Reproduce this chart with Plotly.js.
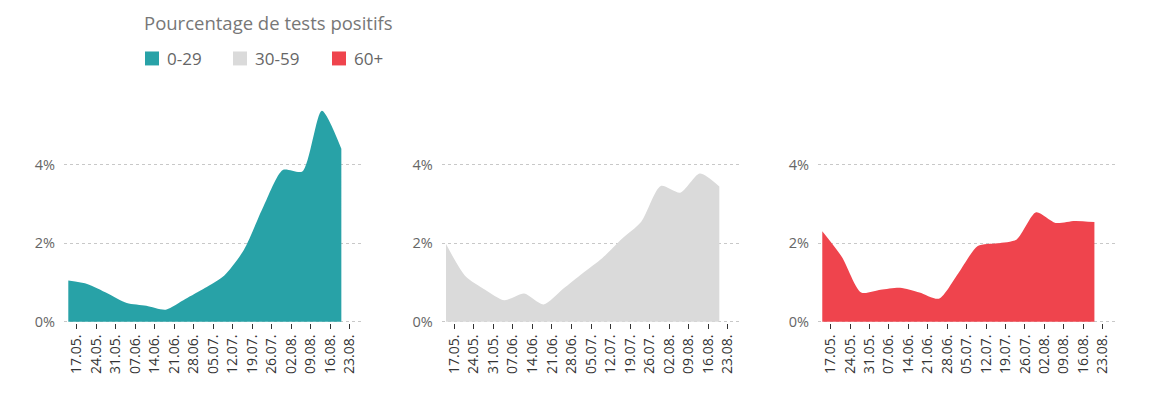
<!DOCTYPE html>
<html>
<head>
<meta charset="utf-8">
<script src="https://cdn.plot.ly/plotly-3.0.1.min.js"></script>
<style>html,body{margin:0;padding:0;background:#fff;}#chart{width:1172px;height:408px;}</style>
</head>
<body>
<div id="chart"></div>
<script>
// Weekly dates (data points)
const dates = ["2020-05-14","2020-05-21","2020-05-28","2020-06-04","2020-06-11","2020-06-18","2020-06-25","2020-07-02","2020-07-09","2020-07-16","2020-07-23","2020-07-30","2020-08-06","2020-08-13","2020-08-20"];
// Percentage of positive tests by age group
const age0_29  = [1.05,0.96,0.73,0.48,0.41,0.31,0.58,0.86,1.18,1.83,2.93,3.87,3.83,5.38,4.41];
const age30_59 = [1.98,1.16,0.82,0.55,0.72,0.44,0.84,1.24,1.62,2.11,2.55,3.46,3.29,3.78,3.45];
const age60p   = [2.31,1.66,0.75,0.82,0.87,0.75,0.59,1.24,1.93,2.00,2.10,2.79,2.52,2.57,2.54];
const groupNames = ["0-29","30-59","60+"];
const groupColors = ["#28A2A7","#DADADA","#EF444D"];
const seriesList = [age0_29, age30_59, age60p];
const yTickVals = [0,2,4];
const yTickText = ["0%","2%","4%"];
const titleText = "Pourcentage de tests positifs";

const domains = [[64/1172, 362/1172],[441.7/1172, 740/1172],[818/1172, 1115/1172]];
const xRange = ["2020-05-12 11:00","2020-08-27 10:00"];
const yRange = [-0.03, 5.6];
const FONT = "Open Sans, Noto Sans, sans-serif";

// plot-area geometry (pixels)
const TOP = 101.7, BOT = 323.5, H = BOT - TOP;
const py = (pix) => (BOT - pix) / H;

const traces = seriesList.map((vals,i)=>({
  type:"scatter", mode:"lines", x:dates, y:vals,
  xaxis: i===0?"x":"x"+(i+1), yaxis: i===0?"y":"y"+(i+1),
  fill:"tozeroy", fillcolor:groupColors[i],
  line:{color:groupColors[i], width:0, shape:"spline", smoothing:0.7},
  showlegend:false, hoverinfo:"skip"
}));

const layout = {
  width:1172, height:408,
  margin:{l:0,r:0,t:TOP,b:408-BOT,pad:0},
  paper_bgcolor:"#fff", plot_bgcolor:"rgba(0,0,0,0)",
  font:{family:FONT, color:"#666", size:13},
  showlegend:false,
  shapes:[], annotations:[]
};
domains.forEach((d,i)=>{
  const sx = i===0?"":String(i+1);
  layout["xaxis"+sx] = {
    domain:d, type:"date", range:xRange, anchor:"y"+sx,
    tick0:"2020-05-17", dtick:7*24*3600*1000, tickformat:"%d.%m.",
    tickangle:-90, ticks:"outside", ticklen:5, tickwidth:1, tickcolor:"#333",
    tickfont:{family:FONT, size:14, color:"#333"},
    showgrid:false, zeroline:false, showline:false, fixedrange:true
  };
  layout["yaxis"+sx] = {
    domain:[0,1], range:yRange, anchor:"x"+sx,
    tickvals:yTickVals, ticktext:yTickText,
    tickfont:{family:FONT, size:14.5, color:"#666"},
    showgrid:true, gridcolor:"#c8c8c8", griddash:"dot", gridwidth:1.2,
    zeroline:false, showline:false, ticks:"", ticklabelstandoff:8, fixedrange:true
  };
});
// Title
layout.annotations.push({
  xref:"paper", yref:"paper", x:142/1172, y:py(22),
  xanchor:"left", yanchor:"middle", showarrow:false,
  text:titleText, font:{family:FONT, size:18.5, color:"#777"}
});
// Legend (swatches + labels)
const legendX = [145, 233, 332];
groupNames.forEach((n,i)=>{
  layout.shapes.push({type:"rect", xref:"paper", yref:"paper",
    x0:legendX[i]/1172, x1:(legendX[i]+14)/1172,
    y0:py(65), y1:py(51),
    fillcolor:groupColors[i], line:{width:0}});
  layout.annotations.push({xref:"paper", yref:"paper",
    x:(legendX[i]+20)/1172, y:py(58),
    xanchor:"left", yanchor:"middle", showarrow:false,
    text:n, font:{family:FONT, size:17, color:"#666"}});
});
Plotly.newPlot("chart", traces, layout, {staticPlot:true, displayModeBar:false});
</script>
</body>
</html>
